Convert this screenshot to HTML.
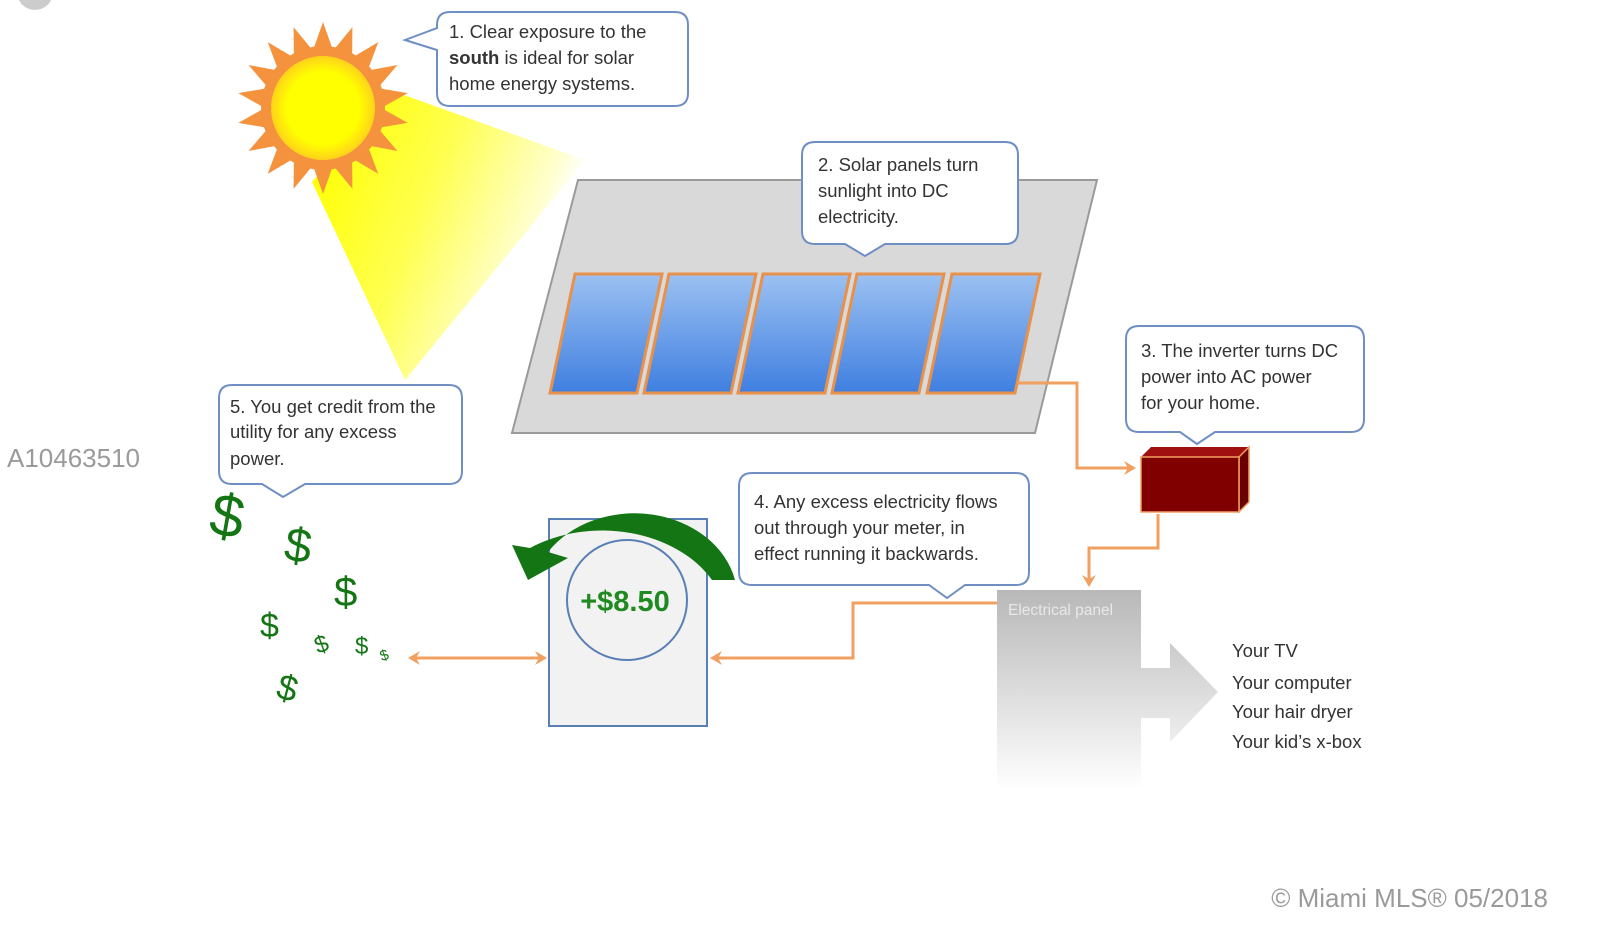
<!DOCTYPE html>
<html><head><meta charset="utf-8"><style>
body{margin:0;background:#fff;}
svg{display:block;font-family:"Liberation Sans",sans-serif;}
.c{font-size:18.5px;fill:#333;}
</style></head><body>
<svg width="1600" height="935" viewBox="0 0 1600 935">
<defs>
<linearGradient id="beam" x1="0.1" y1="0" x2="1" y2="0.4">
<stop offset="0" stop-color="#ffff00"/><stop offset="0.45" stop-color="#ffff50"/><stop offset="0.85" stop-color="#ffffd0"/><stop offset="1" stop-color="#ffffff" stop-opacity="0"/></linearGradient>
<linearGradient id="cell" x1="0" y1="0" x2="0" y2="1"><stop offset="0" stop-color="#9cc1f2"/><stop offset="1" stop-color="#3f7fe0"/></linearGradient>
<radialGradient id="core"><stop offset="0.7" stop-color="#ffff00"/><stop offset="1" stop-color="#ffd21a"/></radialGradient>
<linearGradient id="panel" x1="0" y1="0" x2="0" y2="1"><stop offset="0" stop-color="#b8b8b8"/><stop offset="1" stop-color="#ffffff"/></linearGradient>
<polygon id="ray" points="311,56 335,56 323,22" fill="#f5923e"/>
<marker id="ah2" markerWidth="14" markerHeight="14" refX="10" refY="7" orient="auto-start-reverse" markerUnits="userSpaceOnUse"><path d="M0,0 L12,7 L0,14 L4,7Z" fill="#f0a060"/></marker>
</defs>
<circle cx="35" cy="-8" r="18" fill="#ccc"/>
<polygon points="390,90 585,160 405,380 312,182" fill="url(#beam)"/>
<g>
<use href="#ray"/><use href="#ray" transform="rotate(20 323 108)"/><use href="#ray" transform="rotate(40 323 108)"/><use href="#ray" transform="rotate(60 323 108)"/><use href="#ray" transform="rotate(80 323 108)"/><use href="#ray" transform="rotate(100 323 108)"/><use href="#ray" transform="rotate(120 323 108)"/><use href="#ray" transform="rotate(140 323 108)"/><use href="#ray" transform="rotate(160 323 108)"/><use href="#ray" transform="rotate(180 323 108)"/><use href="#ray" transform="rotate(200 323 108)"/><use href="#ray" transform="rotate(220 323 108)"/><use href="#ray" transform="rotate(240 323 108)"/><use href="#ray" transform="rotate(260 323 108)"/><use href="#ray" transform="rotate(280 323 108)"/><use href="#ray" transform="rotate(300 323 108)"/><use href="#ray" transform="rotate(320 323 108)"/><use href="#ray" transform="rotate(340 323 108)"/>
<circle cx="323" cy="108" r="62" fill="#f5923e"/>
<circle cx="323" cy="108" r="52" fill="url(#core)"/>
</g>
<polygon points="578,180 1097,180 1035,433 512,433" fill="#d9d9d9" stroke="#9a9a9a" stroke-width="2"/>
<g fill="url(#cell)" stroke="#e8914a" stroke-width="3">
<polygon points="575,274 662,274 637,393 550,393"/>
<polygon points="669,274 756,274 731,393 644,393"/>
<polygon points="763,274 850,274 825,393 738,393"/>
<polygon points="857,274 944,274 919,393 832,393"/>
<polygon points="952,274 1040,274 1015,393 927,393"/>
</g>
<g fill="none" stroke="#f0a060" stroke-width="3">
<polyline points="1017,383 1077,383 1077,468 1134,468" marker-end="url(#ah2)"/>
<polyline points="1158,514 1158,548 1089,548 1089,585" marker-end="url(#ah2)"/>
<polyline points="998,603 853,603 853,658 712,658" marker-end="url(#ah2)"/>
<line x1="410" y1="658" x2="545" y2="658" marker-start="url(#ah2)" marker-end="url(#ah2)"/>
</g>
<g fill="#fff" stroke="#6f8fc4" stroke-width="2">
<path d="M450,12 H675 Q688,12 688,25 V93 Q688,106 675,106 H450 Q437,106 437,93 V50 L405,40 L437,28 V25 Q437,12 450,12Z"/>
<path d="M815,142 H1005 Q1018,142 1018,155 V231 Q1018,244 1005,244 H885 L865,256 L845,244 H815 Q802,244 802,231 V155 Q802,142 815,142Z"/>
<path d="M1139,326 H1351 Q1364,326 1364,339 V419 Q1364,432 1351,432 H1215 L1197,444 L1180,432 H1139 Q1126,432 1126,419 V339 Q1126,326 1139,326Z"/>
<path d="M752,473 H1016 Q1029,473 1029,486 V572 Q1029,585 1016,585 H965 L947,598 L929,585 H752 Q739,585 739,572 V486 Q739,473 752,473Z"/>
<path d="M232,385 H449 Q462,385 462,398 V471 Q462,484 449,484 H305 L283,497 L262,484 H232 Q219,484 219,471 V398 Q219,385 232,385Z"/>
</g>
<text class="c"><tspan x="449" y="38">1. Clear exposure to the</tspan><tspan x="449" y="64"><tspan font-weight="bold">south</tspan> is ideal for solar</tspan><tspan x="449" y="90">home energy systems.</tspan></text>
<text class="c"><tspan x="818" y="171">2. Solar panels turn</tspan><tspan x="818" y="197">sunlight into DC</tspan><tspan x="818" y="223">electricity.</tspan></text>
<text class="c"><tspan x="1141" y="357">3. The inverter turns DC</tspan><tspan x="1141" y="383">power into AC power</tspan><tspan x="1141" y="409">for your home.</tspan></text>
<text class="c" font-size="18"><tspan x="754" y="508">4. Any excess electricity flows</tspan><tspan x="754" y="534">out through your meter, in</tspan><tspan x="754" y="560">effect running it backwards.</tspan></text>
<text class="c"><tspan x="230" y="413">5. You get credit from the</tspan><tspan x="230" y="438">utility for any excess</tspan><tspan x="230" y="465">power.</tspan></text>
<polygon points="1141,457 1151,447 1249,447 1239,457" fill="#a01010"/>
<polygon points="1239,457 1249,447 1249,502 1239,512" fill="#6a0000" stroke="#f0a060" stroke-width="1.5"/>
<rect x="1141" y="457" width="98" height="55" fill="#800000" stroke="#f0a060" stroke-width="1.5"/>
<polygon points="997,590 1141,590 1141,668 1170,668 1170,643 1218,692 1170,742 1170,718 1141,718 1141,790 997,790" fill="url(#panel)"/>
<text x="1008" y="615" font-size="15.5" fill="#e8e8e8">Electrical panel</text>
<g class="c" font-size="17"><text x="1232" y="657">Your TV</text><text x="1232" y="689">Your computer</text><text x="1232" y="718">Your hair dryer</text><text x="1232" y="748">Your kid’s x-box</text></g>
<rect x="549" y="519" width="158" height="207" fill="#f2f2f2" stroke="#5a7fb5" stroke-width="2"/>
<circle cx="627" cy="600" r="60" fill="#f2f2f2" stroke="#5a7fb5" stroke-width="2"/>
<text x="625" y="611" font-size="29" font-weight="bold" fill="#1f8a1f" text-anchor="middle">+$8.50</text>
<path d="M735,580 A103,85 0 0 0 548,552 L568,558 L528,580 L512,545 L530,548 A125,95 0 0 1 712,580 Z" fill="#137513"/>
<g fill="#137513">
<text x="210" y="537" font-size="60" transform="rotate(10 230 520)">$</text>
<text x="285" y="562" font-size="48" transform="rotate(8 300 545)">$</text>
<text x="334" y="606" font-size="42">$</text>
<text x="260" y="637" font-size="34">$</text>
<text x="315" y="652" font-size="24" transform="rotate(-20 322 645)">$</text>
<text x="355" y="654" font-size="24">$</text>
<text x="380" y="660" font-size="15" transform="rotate(-20 385 655)">$</text>
<text x="277" y="701" font-size="36" transform="rotate(15 290 690)">$</text>
</g>
<text x="7" y="467" font-size="26" fill="#9a9a9a">A10463510</text>
<text x="1548" y="907" font-size="26" fill="#9a9a9a" text-anchor="end">© Miami MLS® 05/2018</text>
</svg>
</body></html>
